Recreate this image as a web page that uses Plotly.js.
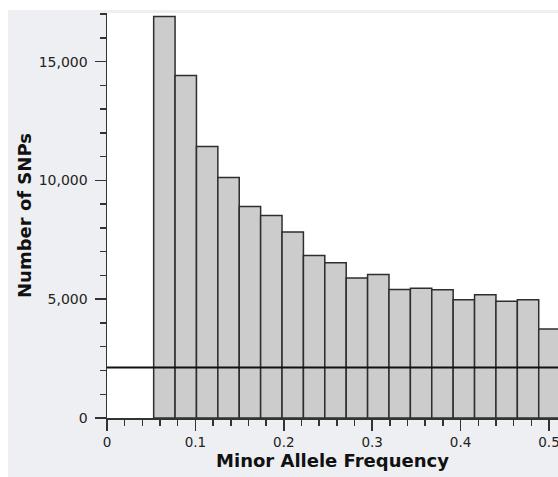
<!DOCTYPE html>
<html>
<head>
<meta charset="utf-8">
<script src="https://cdn.plot.ly/plotly-3.0.1.min.js"></script>
<style>
  html, body { margin: 0; padding: 0; background: #ffffff; width: 558px; height: 477px; overflow: hidden; }
  #chart { position: absolute; left: 8px; top: 10px; width: 550px; height: 467px; }
</style>
</head>
<body>
<div id="chart"></div>
<script>
// Histogram of minor allele frequency (bin left edges)
const binLeft = [0.0528, 0.0770, 0.1012, 0.1254, 0.1496, 0.1738, 0.1980, 0.2222, 0.2464,
                 0.2706, 0.2948, 0.3190, 0.3432, 0.3674, 0.3916, 0.4158, 0.4400, 0.4642, 0.4884];
const binWidth = 0.0242;
const snpCounts = [16900, 14420, 11430, 10130, 8900, 8520, 7830, 6840, 6540,
                   5890, 6040, 5410, 5460, 5400, 4980, 5190, 4920, 4980, 3750];
const thresholdCount = [2130];
const xTickVals = [0, 0.1, 0.2, 0.3, 0.4, 0.5];
const xTickText = ["0", "0.1", "0.2", "0.3", "0.4", "0.5"];
const yTickVals = [0, 5000, 10000, 15000];
const yTickText = ["0", "5,000", "10,000", "15,000"];
const xTitle = "Minor Allele Frequency";
const yTitle = "Number of SNPs";

const axisColor = "#333333";
const tickFont = { family: "DejaVu Sans, Verdana, sans-serif", size: 14, color: "#222222" };
const xTickFont = { family: "DejaVu Sans, Verdana, sans-serif", size: 13.5, color: "#222222" };
const titleFont = { family: "DejaVu Sans, Verdana, sans-serif", size: 18, color: "#111111", weight: "bold" };

const trace = {
  type: "bar",
  x: binLeft,
  y: snpCounts,
  width: binLeft.map(() => binWidth),
  offset: 0,
  marker: { color: "#cccccc", line: { color: "#2e2e2e", width: 1.5 } },
  hoverinfo: "x+y",
  showlegend: false
};

const layout = {
  width: 550,
  height: 467,
  margin: { l: 99, r: 0, t: 3, b: 59, pad: 0 },
  paper_bgcolor: "#eeeff3",
  plot_bgcolor: "#ffffff",
  bargap: 0,
  showlegend: false,
  xaxis: {
    range: [0, 0.5102],
    tickmode: "array",
    tickvals: xTickVals,
    ticktext: xTickText,
    ticks: "outside",
    ticklen: 11,
    tickwidth: 1.5,
    tickcolor: axisColor,
    ticklabelshift: -3.5,
    ticklabeloverflow: "allow",
    minor: { dtick: 0.02, tick0: 0, ticks: "outside", ticklen: 6, tickwidth: 1.5, tickcolor: axisColor, showgrid: false },
    showline: true,
    linecolor: axisColor,
    linewidth: 1.5,
    showgrid: false,
    zeroline: false,
    tickfont: xTickFont,
    title: { text: xTitle, font: titleFont, standoff: 5 },
    automargin: false,
    fixedrange: true
  },
  yaxis: {
    range: [0, 17050],
    tickmode: "array",
    tickvals: yTickVals,
    ticktext: yTickText,
    ticks: "outside",
    ticklen: 11,
    tickwidth: 1.5,
    tickcolor: axisColor,
    ticklabelstandoff: 4,
    minor: { dtick: 1000, tick0: 0, ticks: "outside", ticklen: 6, tickwidth: 1.5, tickcolor: axisColor, showgrid: false },
    showline: true,
    linecolor: axisColor,
    linewidth: 1.5,
    showgrid: false,
    zeroline: false,
    tickfont: tickFont,
    title: { text: yTitle, font: titleFont, standoff: 2 },
    automargin: false,
    fixedrange: true
  },
  shapes: [{
    type: "line",
    xref: "paper", x0: 0, x1: 1,
    yref: "y", y0: thresholdCount[0], y1: thresholdCount[0],
    line: { color: "#111111", width: 2 },
    layer: "above"
  }]
};

Plotly.newPlot("chart", [trace], layout, { displayModeBar: false, staticPlot: true });
</script>
</body>
</html>
